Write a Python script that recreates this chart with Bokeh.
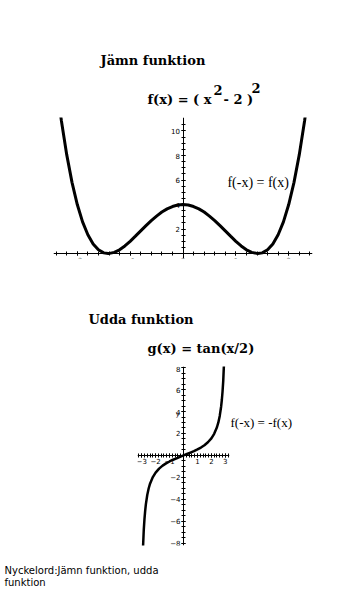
from bokeh.plotting import figure
from bokeh.models import Range1d, FixedTicker
from bokeh.layouts import column, row
from bokeh.core.properties import value
from bokeh.embed import file_html
from bokeh.resources import INLINE
import numpy as np

# ---- data ----
# even function f(x) = (x^2 - 2)^2
f_x = [-2.35, -2.3, -2.2, -2.1, -2.0, -1.9, -1.8, -1.7, -1.6, -1.5, -1.414, -1.3, -1.2, -1.1, -1.0,
       -0.9, -0.8, -0.7, -0.6, -0.5, -0.4, -0.3, -0.2, -0.1, 0.0,
       0.1, 0.2, 0.3, 0.4, 0.5, 0.6, 0.7, 0.8, 0.9, 1.0,
       1.1, 1.2, 1.3, 1.414, 1.5, 1.6, 1.7, 1.8, 1.9, 2.0, 2.1, 2.2, 2.3, 2.35]
f_y = [12.41, 10.82, 8.07, 5.81, 4.0, 2.59, 1.54, 0.79, 0.31, 0.06, 0.0, 0.10, 0.31, 0.62, 1.0,
       1.42, 1.85, 2.28, 2.69, 3.06, 3.39, 3.65, 3.84, 3.96, 4.0,
       3.96, 3.84, 3.65, 3.39, 3.06, 2.69, 2.28, 1.85, 1.42, 1.0,
       0.62, 0.31, 0.10, 0.0, 0.06, 0.31, 0.79, 1.54, 2.59, 4.0, 5.81, 8.07, 10.82, 12.41]
# odd function g(x) = tan(x/2)
g_x = [-2.9, -2.85, -2.8, -2.75, -2.7, -2.6, -2.5, -2.4, -2.2, -2.0, -1.75, -1.5, -1.25, -1.0, -0.75,
       -0.5, -0.25, 0.0, 0.25, 0.5, 0.75, 1.0, 1.25, 1.5, 1.75, 2.0, 2.2, 2.4, 2.5, 2.6, 2.7, 2.75,
       2.8, 2.85, 2.9]
g_y = [-8.24, -6.77, -5.80, -5.05, -4.46, -3.60, -3.01, -2.57, -1.97, -1.56, -1.20, -0.93, -0.72,
       -0.55, -0.39, -0.26, -0.13, 0.0, 0.13, 0.26, 0.39, 0.55, 0.72, 0.93, 1.20, 1.56, 1.97, 2.57,
       3.01, 3.60, 4.46, 5.05, 5.80, 6.77, 8.24]

p1_xticks = [-2, -1, 0, 1, 2]
p1_yticks = [2, 4, 6, 8, 10]
p2_xticks = [-3, -2, -1, 1, 2, 3]
p2_yticks = [-8, -6, -4, -2, 2, 4, 6, 8]

title1 = "Jämn funktion"
formula1 = ["f(x) = ( x", "2", "- 2 )", "2"]
note1 = "f(-x) = f(x)"
title2 = "Udda funktion"
formula2 = "g(x) = tan(x/2)"
note2 = "f(-x) = -f(x)"
footer = ["Nyckelord:Jämn funktion, udda", "funktion"]

W = 356
SERIF_B = value("DejaVu Serif")


def text_fig(w, h):
    p = figure(width=w, height=h, x_range=Range1d(0, w), y_range=Range1d(h, 0),
               x_axis_type=None, y_axis_type=None, toolbar_location=None,
               output_backend="svg", min_border=0)
    p.frame_align = False
    p.outline_line_color = None
    p.background_fill_color = "white"
    p.border_fill_color = "white"
    return p


def style_axes(p):
    p.frame_align = False
    p.grid.visible = False
    p.outline_line_color = None
    for ax in p.axis:
        ax.fixed_location = 0
        ax.axis_line_color = "black"
        ax.major_tick_line_color = "black"
        ax.minor_tick_line_color = "black"
        ax.major_tick_in = 2
        ax.major_tick_out = 2
        ax.minor_tick_in = 2
        ax.minor_tick_out = 2
        ax.major_label_text_font = "DejaVu Sans"
        ax.major_label_text_font_size = "7px"
        ax.major_label_text_color = "black"
        ax.major_label_standoff = 1


# ---- top titles (page y 0-116) ----
top = text_fig(W, 116)
top.text(x=[100], y=[60], text=[title1], text_font=SERIF_B, text_font_style="bold",
         text_font_size="13px", text_baseline="alphabetic", text_align="left", text_color="black")
top.text(x=[147, 213, 223, 251], y=[99, 89, 99, 87], text=formula1, text_font=SERIF_B,
         text_font_style="bold", text_font_size="13px", text_baseline="alphabetic",
         text_align="left", text_color="black")

# ---- plot 1 (page y 116-272) ----
p1 = figure(frame_width=259, frame_height=141, x_range=Range1d(-2.45, 2.45),
            y_range=Range1d(-0.4, 11.1), toolbar_location=None, output_backend="svg",
            min_border_left=53, min_border_right=44, min_border_top=1, min_border_bottom=14)
style_axes(p1)
p1.xaxis.ticker = FixedTicker(ticks=p1_xticks, minor_ticks=list(np.round(np.arange(-2.4, 2.41, 0.2), 2)))
p1.yaxis.ticker = FixedTicker(ticks=p1_yticks, minor_ticks=list(np.arange(0.5, 11.0, 0.5)))
p1.line(f_x, f_y, line_width=3, line_color="black")
p1.text(x=[0.84], y=[5.8], text=[note1], text_font=value("Liberation Serif"),
        text_font_size="14px", text_baseline="alphabetic", text_align="left", text_color="black")

# ---- middle titles (page y 272-365) ----
mid = text_fig(W, 93)
mid.text(x=[88], y=[47], text=[title2], text_font=SERIF_B, text_font_style="bold",
         text_font_size="13px", text_baseline="alphabetic", text_align="left", text_color="black")
mid.text(x=[147], y=[76], text=[formula2], text_font=SERIF_B, text_font_style="bold",
         text_font_size="13px", text_baseline="alphabetic", text_align="left", text_color="black")

# ---- plot 2 (page y 365-557) ----
p2 = figure(frame_width=92, frame_height=179, x_range=Range1d(-3.3, 3.3),
            y_range=Range1d(-8.2, 8.1), toolbar_location=None, output_backend="svg",
            min_border_left=137, min_border_right=1, min_border_top=1, min_border_bottom=12)
style_axes(p2)
p2.xaxis.ticker = FixedTicker(ticks=p2_xticks, minor_ticks=list(np.round(np.arange(-3.2, 3.21, 0.2), 2)))
p2.yaxis.ticker = FixedTicker(ticks=p2_yticks, minor_ticks=list(np.arange(-8.0, 8.01, 0.5)))
p2.line(g_x, g_y, line_width=2.5, line_color="black")
p2.text(x=[-0.55], y=[3.75], text=["y"], text_font=value("DejaVu Sans"), text_font_size="7px",
        text_baseline="alphabetic", text_align="left", text_color="black")

side = text_fig(W - 230, 192)
side.text(x=[0], y=[57], text=[note2], text_font=value("Liberation Serif"),
          text_font_size="13px", text_baseline="alphabetic", text_align="left", text_color="black")

# ---- footer (page y 557-589) ----
bot = text_fig(W, 32)
bot.text(x=[4, 4], y=[13, 25], text=footer, text_font=value("DejaVu Sans"),
         text_font_size="10px", text_baseline="alphabetic", text_align="left", text_color="black")

layout = column(top, p1, mid, row(p2, side, spacing=0), bot, spacing=0)
open("out.html", "w").write(file_html(layout, INLINE))
